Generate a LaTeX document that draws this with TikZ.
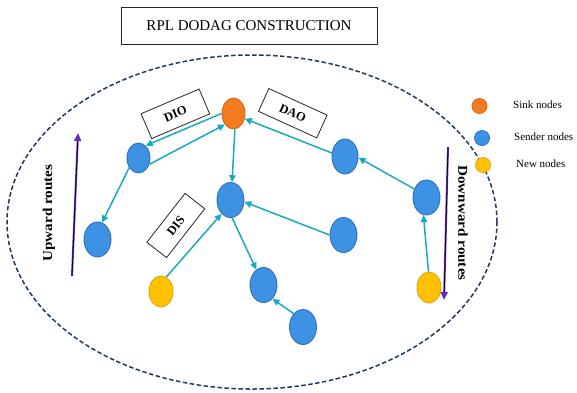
\documentclass[tikz,border=0pt]{standalone}
\usepackage{fontspec}
\setmainfont{Liberation Serif}
\usetikzlibrary{shapes.geometric,arrows.meta}
\definecolor{nblue}{HTML}{3D92E4}
\definecolor{nblueE}{HTML}{2C6FC0}
\definecolor{norange}{HTML}{F47B20}
\definecolor{norangeE}{HTML}{D8641A}
\definecolor{nyellow}{HTML}{FFC000}
\definecolor{nyellowE}{HTML}{E5A800}
\definecolor{lcyan}{HTML}{17A9C6}
\definecolor{ldash}{HTML}{1F3A60}
\definecolor{lpurple}{HTML}{6A2BC0}
\tikzset{
  ell/.style={ellipse,inner sep=0pt,line width=0.9pt},
  sender/.style={ell,fill=nblue,draw=nblueE,minimum width=27pt,minimum height=35pt},
  sink/.style={ell,fill=norange,draw=norangeE,minimum width=23pt,minimum height=31pt},
  newn/.style={ell,fill=nyellow,draw=nyellowE,minimum width=24pt,minimum height=31pt},
  msgbox/.style={draw=black!85,fill=white,line width=0.8pt,inner sep=0pt,font=\fontsize{12.5}{14}\selectfont\bfseries},
  link/.style={draw=lcyan,line width=1.5pt,-{Triangle[length=7pt,width=6.5pt]}},
  legdot/.style={circle,inner sep=0pt,minimum size=15pt,line width=0.8pt},
  legtxt/.style={anchor=west,font=\fontsize{11}{13}\selectfont,inner sep=0pt},
  routetxt/.style={font=\fontsize{13.5}{15}\selectfont\bfseries,inner sep=0pt},
}
\begin{document}
\begin{tikzpicture}[x=1pt,y=-1pt]
\useasboundingbox (0,0) rectangle (577,392);
% title
\node[draw=black!85,line width=0.9pt,minimum width=256pt,minimum height=37pt,inner sep=0pt,font=\fontsize{15}{17}\selectfont] (title) at (249,25.5) {RPL DODAG CONSTRUCTION};
% dashed region
\node[ellipse,draw=ldash,line width=1.5pt,dash pattern=on 4.5pt off 2.5pt,minimum width=490pt,minimum height=334pt,inner sep=0pt] (region) at (252,222) {};
% nodes
\node[sink] (s) at (233.5,113.5) {};
\node[sender] (a) at (138.5,158) [minimum width=23pt,minimum height=30pt] {};
\node[sender] (b) at (97.5,239.5) {};
\node[sender] (c) at (230.5,200) {};
\node[newn] (d) at (161,291.5) {};
\node[sender] (e) at (263.5,285) {};
\node[sender] (f) at (303,327) {};
\node[sender] (g) at (343.5,235) {};
\node[sender] (h) at (345,156.5) [minimum width=26pt] {};
\node[sender] (i) at (426.5,197.5) {};
\node[newn] (j) at (429,287.5) {};
% message boxes
\node[msgbox,minimum width=63pt,minimum height=27pt,rotate=23] (dio) at (175.4,113.8) {DIO};
\node[msgbox,minimum width=64pt,minimum height=25pt,rotate=-24.5] (dao) at (292.8,113.2) {DAO};
\node[msgbox,minimum width=62pt,minimum height=25pt,rotate=52] (dis) at (175.8,225.5) {DIS};
% links
\draw[link] (s.west) -- (a.60);
\draw[link] (a.-30) -- (s.232);
\draw[link] (a.226) -- (b.75);
\draw[link] (s.-85) -- (c.85);
\draw[link] (h.165) -- (s.-25);
\draw[link] (g.west) -- (c.-8);
\draw[link] (d.70) -- (c.237);
\draw[link] (c.-85) -- (e.115);
\draw[link] (f.125) -- (e.-57);
\draw[link] (i.145) -- (h.-5);
\draw[link] (j.92) -- (i.-100);
% route arrows
\coordinate (u1) at (72,276);
\coordinate (u2) at (78,133);
\coordinate (d1) at (448,147);
\coordinate (d2) at (444,300);
\draw[lpurple,line width=2pt,-{Triangle[length=8pt,width=7pt]}] (u1) -- (u2);
\draw[black,line width=0.7pt,shorten >=8pt] (u1) -- (u2);
\draw[lpurple,line width=2pt,-{Triangle[length=8pt,width=7pt]}] (d1) -- (d2);
\draw[black,line width=0.7pt,shorten >=8pt] (d1) -- (d2);
\node[routetxt,rotate=90] (up) at (49,213) {\scalebox{1.12}[1]{Upward routes}};
\node[routetxt,rotate=-90] (down) at (463,223) {\scalebox{1.12}[1]{Downward routes}};
% legend
\node[legdot,fill=norange,draw=norangeE] (l1) at (479.5,106) {};
\node[legdot,fill=nblue,draw=nblueE] (l2) at (482,138) {};
\node[legdot,fill=nyellow,draw=nyellowE] (l3) at (483,165) {};
\node[legtxt] (t1) at (513,105) {Sink nodes};
\node[legtxt] (t2) at (514,137) {Sender nodes};
\node[legtxt] (t3) at (516,164) {New nodes};
\end{tikzpicture}
\end{document}
